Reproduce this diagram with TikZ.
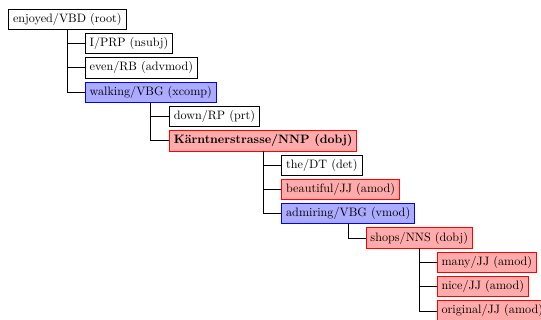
\documentclass[tikz,border=0pt]{standalone}
\usepackage{fontspec}
\usetikzlibrary{positioning}

\begin{document}
\begin{tikzpicture}[
  semithick,
  tok/.style={draw, fill=white, anchor=north west, inner xsep=3.6pt, text height=7.5pt, text depth=2.5pt},
  verb/.style={tok, draw=blue, fill=blue!33},
  noun/.style={tok, draw=red, fill=red!33},
]
\useasboundingbox (0,0) rectangle (444.3pt,-262.8pt);
% root of the parse
\node[tok] (enjoyed) at (6.8pt,-7.1pt) {enjoyed/VBD (root)};
% dependents of enjoyed
\node[tok, below right=2.7pt and 14.4pt of enjoyed.south] (I) {I/PRP (nsubj)};
\node[tok, below right=2.7pt and 0pt of I.south west] (even) {even/RB (advmod)};
\node[verb, below right=2.7pt and 0pt of even.south west] (walking) {walking/VBG (xcomp)};
% dependents of walking
\node[tok, below right=2.7pt and 15pt of walking.south] (down) {down/RP (prt)};
\node[noun, below right=2.7pt and 0pt of down.south west] (street) {\textbf{Kärntnerstrasse/NNP (dobj)}};
% dependents of the street
\node[tok, below right=2.7pt and 15pt of street.south] (the) {the/DT (det)};
\node[noun, below right=2.7pt and 0pt of the.south west] (beautiful) {beautiful/JJ (amod)};
\node[verb, below right=2.7pt and 0pt of beautiful.south west] (admiring) {admiring/VBG (vmod)};
% dependent of admiring
\node[noun, below right=2.7pt and 14.4pt of admiring.south] (shops) {shops/NNS (dobj)};
% dependents of shops
\node[noun, below right=2.7pt and 14.4pt of shops.south] (many) {many/JJ (amod)};
\node[noun, below right=2.7pt and 0pt of many.south west] (nice) {nice/JJ (amod)};
\node[noun, below right=2.7pt and 0pt of nice.south west] (original) {original/JJ (amod)};
% edges from each head down to its dependents
\draw (enjoyed.south) |- (I.west) (enjoyed.south) |- (even.west) (enjoyed.south) |- (walking.west);
\draw (walking.south) |- (down.west) (walking.south) |- (street.west);
\draw (street.south) |- (the.west) (street.south) |- (beautiful.west) (street.south) |- (admiring.west);
\draw (admiring.south) |- (shops.west);
\draw (shops.south) |- (many.west) (shops.south) |- (nice.west) (shops.south) |- (original.west);
\end{tikzpicture}
\end{document}
